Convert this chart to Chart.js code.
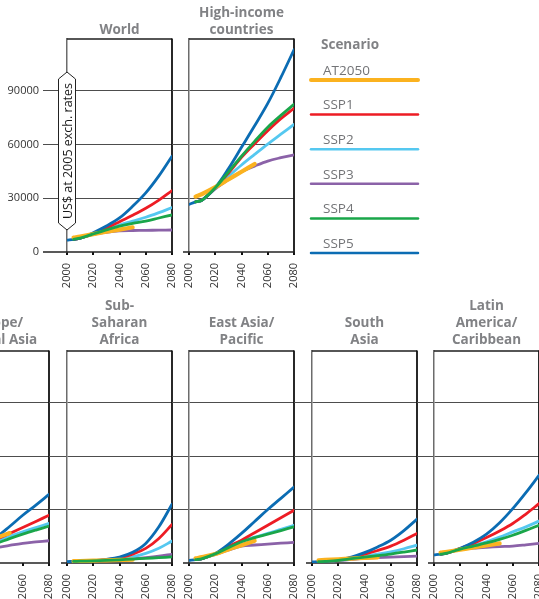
<!DOCTYPE html>
<html>
<head>
<meta charset="utf-8">
<script src="https://cdn.jsdelivr.net/npm/chart.js@4/dist/chart.umd.min.js"></script>
<style>
  html, body { margin: 0; padding: 0; background: #fff; }
  #wrap { position: relative; width: 539px; height: 599px; overflow: hidden; background: #fff; }
  #wrap canvas { position: absolute; }
</style>
</head>
<body>
<div id="wrap"></div>
<script>
// GDP per capita (US$ at 2005 exchange rates) by scenario
const YEARS = [2000, 2005, 2010, 2020, 2030, 2040, 2050, 2060, 2070, 2080];
const SCENARIOS = ['AT2050', 'SSP1', 'SSP2', 'SSP3', 'SSP4', 'SSP5'];
const COLORS = ['#fbb21f', '#ed1c24', '#55c8f0', '#8b62a8', '#1aa64a', '#0b6cb3'];
const X_TICKS = [2000, 2020, 2040, 2060, 2080];
const Y_TICKS = [0, 30000, 60000, 90000];

// rows: AT2050, SSP1, SSP2, SSP3, SSP4, SSP5
const WORLD = [
  [null, 8000, 8600, 10000, 11300, 12500, 13800, null, null, null],
  [null, 7100, 7700, 10300, 13400, 16900, 20500, 24400, 29000, 34300],
  [null, 7100, 7700, 10100, 12600, 15100, 17200, 19400, 22000, 24800],
  [null, 7100, 7700, 9800, 11000, 11800, 12000, 12100, 12200, 12300],
  [null, 7100, 7700, 10100, 12400, 14500, 16000, 17300, 19000, 20700],
  [6600, 7100, 7700, 10800, 14500, 19000, 25500, 33000, 42500, 53500]
];
const HIGH_INCOME = [
  [null, 30900, 32400, 36200, 40500, 44800, 49200, null, null, null],
  [null, 28000, 29000, 35800, 44000, 52900, 60500, 67800, 74500, 80300],
  [null, 28000, 29000, 35600, 42200, 48600, 54500, 60300, 65800, 71300],
  [null, 28000, 29000, 35200, 40400, 44900, 48000, 50800, 52700, 54300],
  [null, 28000, 29000, 35900, 44600, 53500, 61800, 69700, 76300, 82500],
  [26600, 28000, 29000, 36000, 46500, 58500, 70500, 83000, 97500, 113000]
];
const EUROPE_CENTRAL_ASIA = [
  [null, 5000, 5800, 8300, 11200, 14200, 16800, null, null, null],
  [null, 4600, 5200, 6900, 9600, 13300, 16600, 19900, 23300, 26800],
  [null, 4600, 5200, 6800, 9300, 12400, 15000, 17500, 19900, 22200],
  [null, 4600, 5200, 6500, 7800, 8700, 9900, 11000, 11800, 12500],
  [null, 4600, 5200, 6600, 8700, 11000, 13700, 16200, 18500, 20700],
  [4000, 4600, 5200, 7000, 10000, 14500, 20500, 26800, 32500, 38500]
];
const SUB_SAHARAN_AFRICA = [
  [null, 1000, 1100, 1300, 1500, 1700, 1900, null, null, null],
  [null, 900, 1000, 1300, 1900, 2900, 4900, 8200, 13800, 21600],
  [null, 900, 1000, 1250, 1700, 2300, 3500, 5400, 8300, 12300],
  [null, 900, 1000, 1200, 1500, 1900, 2400, 3000, 3800, 4900],
  [null, 900, 1000, 1200, 1500, 1800, 2200, 2600, 3000, 3400],
  [800, 900, 1000, 1300, 2000, 3300, 6000, 11000, 20300, 33000]
];
const EAST_ASIA_PACIFIC = [
  [null, 2600, 3300, 5000, 7600, 10000, 12500, null, null, null],
  [null, 1900, 2500, 5200, 9200, 12800, 17000, 21200, 25400, 29600],
  [null, 1900, 2500, 5100, 8700, 12300, 14500, 16600, 18900, 21200],
  [null, 1900, 2500, 4800, 7300, 9500, 10100, 10600, 11100, 11600],
  [null, 1900, 2500, 5100, 8600, 11900, 14200, 16200, 18200, 20300],
  [1500, 1900, 2500, 5400, 10500, 16600, 23300, 30000, 36300, 42600]
];
const SOUTH_ASIA = [
  [null, 1500, 1700, 2100, 2500, 2900, 3200, null, null, null],
  [null, 700, 900, 1600, 3000, 4900, 7000, 9500, 12800, 16600],
  [null, 700, 900, 1500, 2500, 3800, 5000, 6300, 8000, 10000],
  [null, 700, 900, 1400, 2000, 2600, 3000, 3300, 3600, 3900],
  [null, 700, 900, 1500, 2400, 3300, 4100, 5000, 6100, 7300],
  [600, 700, 900, 1700, 3300, 5800, 9000, 12800, 18200, 24600]
];
const LATIN_AMERICA_CARIBBEAN = [
  [null, 5800, 6300, 7500, 8700, 9800, 11000, null, null, null],
  [null, 5000, 5600, 8200, 11000, 14300, 18000, 22200, 27500, 33300],
  [null, 5000, 5600, 8000, 9900, 11900, 14500, 17500, 20300, 23500],
  [null, 5000, 5600, 7600, 8300, 8800, 9200, 9500, 10200, 11000],
  [null, 5000, 5600, 7800, 9500, 11300, 13300, 15600, 18300, 21200],
  [4500, 5000, 5600, 8300, 11700, 16200, 22600, 30500, 39500, 49200]
];

const FONT = "'Open Sans', 'Noto Sans', sans-serif";
const Y_MAX = 119000;
// lower value = drawn on top
const DRAW_ORDER = [1, 3, 4, 5, 0, 2];

// Panel placement in the 539x599 page
const PANELS = [
  { title: ['World'], rows: WORLD, left: 0, top: 0, width: 180, height: 300, padTop: 39, axisW: 67, padRight: 8, xAxisH: 48, showY: true, zeroLead: 24, titleGap: 9, yLabel: true },
  { title: ['High-income', 'countries'], rows: HIGH_INCOME, left: 172, top: 0, width: 367, height: 300, padTop: 39, axisW: 17, padRight: 245, xAxisH: 48, showY: false, zeroLead: 6, titleGap: 9, legend: true },
  { title: ['Europe/', 'Central Asia'], rows: EUROPE_CENTRAL_ASIA, left: -73, top: 290, width: 130, height: 309, padTop: 61, axisW: 17, padRight: 8, xAxisH: 36, showY: false, zeroLead: 6, titleGap: 11 },
  { title: ['Sub-', 'Saharan', 'Africa'], rows: SUB_SAHARAN_AFRICA, left: 49, top: 290, width: 131, height: 309, padTop: 61, axisW: 18, padRight: 8, xAxisH: 36, showY: false, zeroLead: 6, titleGap: 11 },
  { title: ['East Asia/', 'Pacific'], rows: EAST_ASIA_PACIFIC, left: 172, top: 290, width: 130, height: 309, padTop: 61, axisW: 17, padRight: 8, xAxisH: 36, showY: false, zeroLead: 6, titleGap: 11 },
  { title: ['South', 'Asia'], rows: SOUTH_ASIA, left: 294, top: 290, width: 131, height: 309, padTop: 61, axisW: 18, padRight: 8, xAxisH: 36, showY: false, zeroLead: 6, titleGap: 11 },
  { title: ['Latin', 'America/', 'Caribbean'], rows: LATIN_AMERICA_CARIBBEAN, left: 417, top: 290, width: 130, height: 309, padTop: 61, axisW: 17, padRight: 8, xAxisH: 36, showY: false, zeroLead: 6, titleGap: 11 }
];

// Frame, zero line, titles, axis caption and scenario key
const panelDeco = {
  id: 'panelDeco',
  beforeDatasetsDraw(chart, args, opts) {
    const { ctx, chartArea: a } = chart;
    const y0 = chart.scales.y.getPixelForValue(0);
    ctx.save();
    ctx.strokeStyle = '#1e1e1e';
    ctx.lineWidth = 1.3;
    ctx.beginPath();
    ctx.moveTo(a.left, a.top);
    ctx.lineTo(a.right, a.top);
    ctx.stroke();
    ctx.lineWidth = 1.8;
    ctx.strokeStyle = '#111';
    ctx.beginPath();
    ctx.moveTo(a.right, a.top - 0.6);
    ctx.lineTo(a.right, y0);
    ctx.stroke();
    ctx.lineWidth = 1.5;
    ctx.strokeStyle = '#222';
    ctx.beginPath();
    ctx.moveTo(a.left - opts.zeroLead, y0);
    ctx.lineTo(a.right + 1, y0);
    ctx.stroke();
    ctx.restore();
  },
  afterDraw(chart, args, opts) {
    const { ctx, chartArea: a } = chart;
    ctx.save();
    // panel title
    ctx.font = 'bold 13.5px ' + FONT;
    ctx.fillStyle = '#818285';
    ctx.textAlign = 'center';
    ctx.textBaseline = 'middle';
    const n = opts.title.length;
    const cx = (a.left + a.right) / 2;
    opts.title.forEach((line, i) => {
      ctx.fillText(line, cx, a.top - opts.titleGap - (n - 1 - i) * 16.7);
    });

    if (opts.yLabel) {
      const x = a.left, t = 72, b = 230, w = 8.5, s = 7;
      ctx.beginPath();
      ctx.moveTo(x, t);
      ctx.lineTo(x + w, t + s);
      ctx.lineTo(x + w, b - s);
      ctx.lineTo(x, b);
      ctx.lineTo(x - w, b - s);
      ctx.lineTo(x - w, t + s);
      ctx.closePath();
      ctx.fillStyle = '#fff';
      ctx.fill();
      ctx.lineWidth = 1;
      ctx.strokeStyle = '#222';
      ctx.stroke();
      ctx.translate(x, (t + b) / 2);
      ctx.rotate(-Math.PI / 2);
      ctx.font = '12.5px ' + FONT;
      ctx.fillStyle = '#1a1a1a';
      ctx.textAlign = 'center';
      ctx.textBaseline = 'middle';
      ctx.fillText('US$ at 2005 exch. rates', 0, 1);
      ctx.setTransform(1, 0, 0, 1, 0, 0);
    }

    if (opts.legend) {
      const x0 = a.right + 17, len = 107;
      ctx.textAlign = 'left';
      ctx.textBaseline = 'middle';
      ctx.font = 'bold 13.5px ' + FONT;
      ctx.fillStyle = '#818285';
      ctx.fillText('Scenario', x0 + 10, 45);
      ctx.font = '13.5px ' + FONT;
      chart.data.datasets.forEach((ds, i) => {
        const ly = 80 + i * 34.6;
        ctx.strokeStyle = ds.borderColor;
        ctx.lineWidth = i === 0 ? 4 : 2.5;
        ctx.lineCap = 'round';
        ctx.beginPath();
        ctx.moveTo(x0, ly);
        ctx.lineTo(x0 + len, ly);
        ctx.stroke();
        ctx.fillStyle = '#737477';
        ctx.fillText(ds.label, x0 + 12, ly - 9);
      });
    }
    ctx.restore();
  }
};

const wrap = document.getElementById('wrap');
PANELS.forEach(p => {
  const cv = document.createElement('canvas');
  cv.width = p.width;
  cv.height = p.height;
  cv.style.left = p.left + 'px';
  cv.style.top = p.top + 'px';
  cv.style.width = p.width + 'px';
  cv.style.height = p.height + 'px';
  wrap.appendChild(cv);

  new Chart(cv, {
    type: 'line',
    data: {
      datasets: SCENARIOS.map((name, i) => ({
        label: name,
        data: YEARS.map((yr, k) => ({ x: yr, y: p.rows[i][k] })),
        borderColor: COLORS[i],
        backgroundColor: COLORS[i],
        borderWidth: i === 0 ? 4.2 : 2.8,
        pointRadius: 0,
        tension: 0.35,
        borderCapStyle: 'round',
        order: DRAW_ORDER[i]
      }))
    },
    options: {
      responsive: false,
      animation: false,
      devicePixelRatio: 1,
      events: [],
      layout: { padding: { left: 0, right: p.padRight, top: p.padTop, bottom: 0 } },
      plugins: {
        legend: { display: false },
        tooltip: { enabled: false },
        title: { display: false },
        panelDeco: p
      },
      scales: {
        x: {
          type: 'linear',
          min: 2000,
          max: 2080,
          afterBuildTicks: s => { s.ticks = X_TICKS.map(v => ({ value: v })); },
          afterFit: s => { s.height = p.xAxisH; s.paddingLeft = 0; s.paddingRight = 0; },
          border: { display: false },
          grid: { drawOnChartArea: false, drawTicks: true, tickLength: 3, color: '#111', lineWidth: 2 },
          ticks: {
            minRotation: 90, maxRotation: 90, autoSkip: false, padding: 8,
            color: '#333', font: { family: FONT, size: 11 },
            callback: v => String(v)
          }
        },
        y: {
          type: 'linear',
          min: 0,
          max: Y_MAX,
          afterBuildTicks: s => { s.ticks = Y_TICKS.map(v => ({ value: v })); },
          afterFit: s => { s.width = p.axisW; s.paddingTop = 0; s.paddingBottom = 0; },
          border: { display: true, color: '#6c6c6c', width: 1.5 },
          grid: {
            drawOnChartArea: true,
            drawTicks: true,
            tickLength: p.showY ? 24 : p.axisW,
            lineWidth: 1,
            color: c => (c.tick && c.tick.value === 0) ? 'rgba(0,0,0,0)' : '#4d4d4d'
          },
          ticks: {
            display: p.showY, padding: 4,
            color: '#333', font: { family: FONT, size: 11 },
            callback: v => String(v)
          }
        }
      }
    },
    plugins: [panelDeco]
  });
});
</script>
</body>
</html>
